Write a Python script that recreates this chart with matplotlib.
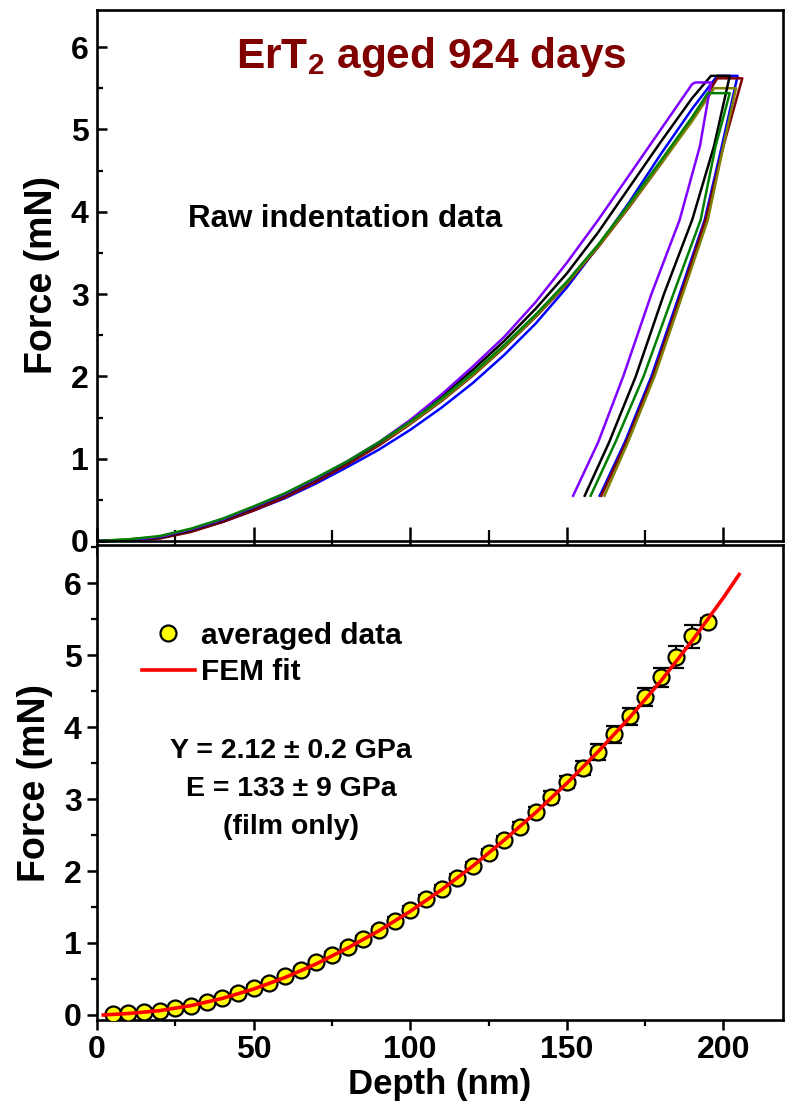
import matplotlib
matplotlib.use("Agg")
import matplotlib.pyplot as plt
from matplotlib.lines import Line2D
from matplotlib.ticker import MultipleLocator

plt.rcParams["font.family"] = ["Liberation Sans", "DejaVu Sans"]
plt.rcParams["font.weight"] = "bold"
plt.rcParams["mathtext.fontset"] = "custom"
plt.rcParams["mathtext.rm"] = "Liberation Sans:bold"
plt.rcParams["mathtext.it"] = "Liberation Sans:bold"
plt.rcParams["mathtext.bf"] = "Liberation Sans:bold"

# ---- raw indentation curves (top panel) ----
load_depth = [0, 10, 20, 30, 40, 50, 60, 70, 80, 90, 100, 110, 120, 130, 140, 150, 160, 170, 180, 190]

purple_load = [0, 0.01, 0.05, 0.14, 0.26, 0.41, 0.57, 0.76, 0.97, 1.20, 1.47, 1.78, 2.12, 2.48, 2.90, 3.38, 3.90, 4.45, 5.00, 5.55]
black_load = [0, 0.01, 0.04, 0.13, 0.25, 0.40, 0.56, 0.75, 0.96, 1.19, 1.46, 1.76, 2.08, 2.43, 2.82, 3.25, 3.75, 4.30, 4.85, 5.38]
blue_load = [0, 0.01, 0.04, 0.12, 0.23, 0.37, 0.52, 0.70, 0.90, 1.11, 1.35, 1.62, 1.92, 2.26, 2.64, 3.08, 3.58, 4.12, 4.70, 5.25]
green_load = [0, 0.02, 0.06, 0.15, 0.27, 0.42, 0.58, 0.77, 0.97, 1.20, 1.45, 1.73, 2.04, 2.38, 2.75, 3.15, 3.60, 4.10, 4.62, 5.15]
olive_load = [0, 0.02, 0.05, 0.14, 0.26, 0.41, 0.57, 0.76, 0.96, 1.18, 1.43, 1.71, 2.02, 2.36, 2.73, 3.13, 3.58, 4.07, 4.58, 5.10]
darkred_load = [0, 0.01, 0.03, 0.11, 0.23, 0.37, 0.53, 0.72, 0.93, 1.16, 1.42, 1.70, 2.01, 2.35, 2.72, 3.12, 3.57, 4.06, 4.58, 5.12]

# peak hold: (start depth, end depth, force)
purple_hold = (191, 196, 5.57)
black_hold = (196, 202, 5.65)
blue_hold = (198, 204.5, 5.65)
green_hold = (195, 202, 5.44)
olive_hold = (197, 204, 5.50)
darkred_hold = (198, 206, 5.62)

unload_force = [4.8, 3.9, 3.0, 2.0, 1.2, 0.55]
purple_unload = [192.5, 186, 177, 168, 160, 152]
black_unload = [197, 190, 181, 172, 163.5, 155.7]
blue_unload = [199.5, 194, 186, 177, 168.5, 160.5]
green_unload = [197.5, 192.7, 184, 174.5, 165.5, 157.6]
olive_unload = [200, 195, 187, 178, 169.5, 162]
darkred_unload = [200, 194.3, 186.5, 177.5, 169, 161]

# ---- averaged data and FEM fit (bottom panel) ----
avg_depth = [5, 10, 15, 20, 25, 30, 35, 40, 45, 50, 55, 60, 65, 70, 75, 80, 85, 90, 95, 100,
             105, 110, 115, 120, 125, 130, 135, 140, 145, 150, 155, 160, 165, 170, 175, 180, 185, 190, 195]
avg_force = [0.02, 0.03, 0.04, 0.06, 0.09, 0.13, 0.18, 0.24, 0.31, 0.38, 0.45, 0.54, 0.63, 0.73, 0.83, 0.94, 1.06, 1.18, 1.31, 1.46,
             1.61, 1.75, 1.90, 2.07, 2.25, 2.43, 2.61, 2.82, 3.03, 3.24, 3.43, 3.65, 3.90, 4.15, 4.42, 4.69, 4.97, 5.26, 5.46]
avg_err = [0.01, 0.01, 0.01, 0.02, 0.02, 0.02, 0.02, 0.03, 0.03, 0.03, 0.03, 0.03, 0.03, 0.04, 0.04, 0.04, 0.04, 0.04, 0.05, 0.05,
           0.05, 0.05, 0.06, 0.06, 0.06, 0.06, 0.07, 0.07, 0.08, 0.08, 0.10, 0.11, 0.12, 0.12, 0.13, 0.13, 0.15, 0.16, 0.05]

fit_depth = [2, 10, 20, 30, 40, 50, 60, 70, 80, 90, 100, 110, 120, 130, 140, 150, 160, 170, 180, 190, 200, 205]
fit_force = [0, 0.02, 0.06, 0.13, 0.23, 0.36, 0.52, 0.71, 0.93, 1.17, 1.44, 1.74, 2.07, 2.43, 2.81, 3.22, 3.66, 4.13, 4.64, 5.20, 5.80, 6.12]

curves = [
    ("#0000FF", blue_load, blue_hold, blue_unload),
    ("#800000", darkred_load, darkred_hold, darkred_unload),
    ("#808000", olive_load, olive_hold, olive_unload),
    ("black", black_load, black_hold, black_unload),
    ("#8000FF", purple_load, purple_hold, purple_unload),
    ("#008000", green_load, green_hold, green_unload),
]

W, H = 788, 1105
fig = plt.figure(figsize=(W / 100, H / 100), dpi=100)
left, right = 97 / W, 783 / W
ax1 = fig.add_axes([left, 1 - 541 / H, right - left, (541 - 10) / H])
ax2 = fig.add_axes([left, 1 - 1020 / H, right - left, (1020 - 545) / H])

for c, load, hold, unload in curves:
    xs = list(load_depth) + [hold[0], hold[1]] + list(unload)
    ys = list(load) + [hold[2], hold[2]] + list(unload_force)
    ax1.plot(xs, ys, color=c, lw=1.8)

ax1.text(0.487, 0.912, "ErT$_{2}$ aged 924 days", transform=ax1.transAxes,
         ha="center", va="center", fontsize=30.5, color="#800000", fontweight="bold")
ax1.text(0.362, 0.606, "Raw indentation data", transform=ax1.transAxes,
         ha="center", va="center", fontsize=22.5, fontweight="bold")

ax2.errorbar(avg_depth, avg_force, yerr=avg_err, fmt="o", ms=11.5, mfc="#FFFF00",
             mec="black", mew=1.6, ecolor="black", elinewidth=1.4, capsize=6,
             capthick=1.4, zorder=3)
ax2.plot(fit_depth, fit_force, color="#FF0000", lw=2.6, zorder=4)

handles = [
    Line2D([], [], ls="none", marker="o", ms=11.5, mfc="#FFFF00", mec="black", mew=1.6),
    Line2D([], [], color="#FF0000", lw=2.6),
]
ax2.legend(handles, ["averaged data", "FEM fit"], loc="upper left",
           bbox_to_anchor=(0.066, 0.838), frameon=False, fontsize=21.5,
           handlelength=1.75, handletextpad=0.2, labelspacing=0.27,
           borderpad=0, borderaxespad=0)
ax2.text(0.283, 0.486, "Y = 2.12 \u00b1 0.2 GPa\nE = 133 \u00b1 9 GPa\n(film only)",
         transform=ax2.transAxes, ha="center", va="center", fontsize=20.5,
         fontweight="bold", linespacing=1.6)

for ax in (ax1, ax2):
    ax.set_xlim(0, 219)
    ax.xaxis.set_major_locator(MultipleLocator(50))
    ax.xaxis.set_minor_locator(MultipleLocator(25))
    ax.yaxis.set_major_locator(MultipleLocator(1))
    ax.yaxis.set_minor_locator(MultipleLocator(0.5))
    for s in ax.spines.values():
        s.set_linewidth(1.9)
    ax.set_ylabel("Force (mN)", fontsize=27, fontweight="bold", labelpad=8)

ax1.set_ylim(0, 6.45)
ax2.set_ylim(-0.07, 6.53)

ax1.tick_params(axis="y", which="major", direction="in", length=7, width=1.8, labelsize=23, pad=6)
ax1.tick_params(axis="y", which="minor", direction="in", length=4, width=1.6)
ax1.tick_params(axis="x", which="major", direction="inout", length=20, width=1.8, labelbottom=False)
ax1.tick_params(axis="x", which="minor", direction="inout", length=16, width=1.6)

ax2.tick_params(axis="both", which="major", direction="out", length=7, width=1.8, labelsize=23, pad=4)
ax2.tick_params(axis="both", which="minor", direction="out", length=4, width=1.6)
ax2.set_xlabel("Depth (nm)", fontsize=25, fontweight="bold", labelpad=2)

for lab in ax1.get_yticklabels() + ax2.get_yticklabels() + ax2.get_xticklabels():
    lab.set_fontweight("bold")

fig.savefig("out.png", dpi=100)
